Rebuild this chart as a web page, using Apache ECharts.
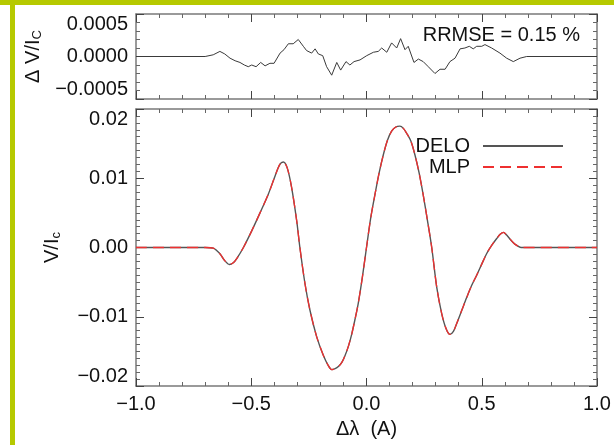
<!DOCTYPE html>
<html>
<head>
<meta charset="utf-8">
<script src="https://cdn.jsdelivr.net/npm/echarts@6/dist/echarts.min.js"></script>
<style>
  html, body { margin: 0; padding: 0; background: #fff; }
  #chart { width: 614px; height: 445px; }
</style>
</head>
<body>
<div id="chart"></div>
<script>
// residual panel (DELO - MLP)
const resX = [-1.0, -0.70, -0.665, -0.636, -0.615, -0.592, -0.570, -0.549, -0.530, -0.513, -0.498, -0.479,
  -0.459, -0.440, -0.419, -0.401, -0.375, -0.358, -0.339, -0.318, -0.296, -0.274, -0.260, -0.238, -0.223,
  -0.209, -0.190, -0.173, -0.151, -0.129, -0.112, -0.089, -0.072, -0.054, -0.028, 0.001, 0.030, 0.051,
  0.066, 0.088, 0.109, 0.131, 0.148, 0.167, 0.181, 0.206, 0.225, 0.246, 0.268, 0.297, 0.319, 0.341, 0.362,
  0.384, 0.406, 0.427, 0.446, 0.463, 0.478, 0.500, 0.514, 0.543, 0.579, 0.608, 0.637, 0.666, 0.695, 1.0];
const resY = [0, 0, 0.00002, 0.00006, 0.00003, -0.00002, -0.00005, -0.00007, -0.0001, -0.00012, -0.0001, -0.00012,
  -0.00007, -0.00011, -0.00008, -0.00008, 0.00004, 0.00008, 0.00015, 0.00015, 0.0002, 0.00012, 0.00007, 0.00004, 0.00009,
  0.00003, 0.00001, -0.00012, -0.00022, -0.00007, -0.00016, -0.00006, -0.0001, -0.00006, -0.00004, 0.00001, 0.00005, 0.00006,
  0.0001, 0.00005, 0.00016, 0.0001, 0.00021, 0.00008, 0.00012, -0.00007, -0.00003, -0.00006, -0.00012, -0.0002, -0.00015, -0.00015, -0.00006,
  -0.00002, 0.00009, 0.0001, 0.00012, 0.00009, 0.00012, 0.00012, 0.00014, 0.0001, 0.00004, -0.00002, -0.00006, -0.00002, 0, 0];

// Stokes V profiles
const waveX = [-1.0, -0.70, -0.665, -0.636, -0.615, -0.595, -0.578, -0.563, -0.534, -0.498, -0.462, -0.426,
  -0.397, -0.376, -0.361, -0.344, -0.325, -0.303, -0.289, -0.267, -0.245, -0.216, -0.187, -0.165, -0.151,
  -0.136, -0.122, -0.107, -0.093, -0.078, -0.064, -0.050, -0.036, -0.018, 0.000, 0.018, 0.037, 0.055, 0.073,
  0.091, 0.109, 0.127, 0.145, 0.160, 0.174, 0.192, 0.210, 0.228, 0.246, 0.264, 0.283, 0.305, 0.326, 0.345,
  0.362, 0.377, 0.391, 0.413, 0.435, 0.456, 0.478, 0.500, 0.521, 0.543, 0.565, 0.580, 0.594, 0.608, 0.623,
  0.637, 0.652, 0.670, 1.0];
const deloV = [0, 0, -0.0001, -0.0009, -0.0019, -0.00245, -0.0022, -0.0016, 0.0000, 0.0024, 0.0050, 0.0077,
  0.0103, 0.0120, 0.01235, 0.0115, 0.0087, 0.0039, 0.0000, -0.0052, -0.0091, -0.0129, -0.0156, -0.0171, -0.01763,
  -0.0175, -0.0172, -0.0166, -0.0156, -0.0142, -0.0125, -0.0104, -0.0081, -0.0043, 0.0000, 0.0042, 0.0077, 0.0108, 0.0134,
  0.0155, 0.0168, 0.0174, 0.01752, 0.0172, 0.0165, 0.0154, 0.0134, 0.0108, 0.0076, 0.0040, 0.0000, -0.0058, -0.0095, -0.0117,
  -0.01255, -0.0121, -0.0110, -0.0091, -0.0072, -0.0055, -0.0040, -0.0024, -0.0009, 0.0003, 0.0013, 0.0019, 0.00218, 0.0018, 0.0012,
  0.0007, 0.0003, 0.0000, 0];
const mlpV = [0, 0, -0.0001, -0.0009, -0.0019, -0.00245, -0.0022, -0.0016, 0.0000, 0.0024, 0.0050, 0.0077,
  0.0103, 0.0120, 0.01235, 0.0115, 0.0087, 0.0039, 0.0000, -0.0052, -0.0091, -0.0129, -0.0156, -0.0171, -0.01763,
  -0.0175, -0.0172, -0.0166, -0.0156, -0.0142, -0.0125, -0.0104, -0.0081, -0.0043, 0.0000, 0.0042, 0.0077, 0.0108, 0.0134,
  0.0155, 0.0168, 0.0174, 0.01752, 0.0172, 0.0165, 0.0154, 0.0134, 0.0108, 0.0076, 0.0040, 0.0000, -0.0058, -0.0095, -0.0117,
  -0.01255, -0.0121, -0.0110, -0.0091, -0.0072, -0.0055, -0.0040, -0.0024, -0.0009, 0.0003, 0.0013, 0.0019, 0.00218, 0.0018, 0.0012,
  0.0007, 0.0003, 0.0000, 0];

const FONT = '"Liberation Sans", Arial, sans-serif';
const boxColor = '#7a7a7a';

function fmt(v, d) {
  if (Math.abs(v) < 1e-12) v = 0;
  return v.toFixed(d).replace('-', '\u2212');
}

function boxAxis(grid, pos, extra) {
  return Object.assign({
    type: 'value',
    gridIndex: grid,
    position: pos,
    axisLine: { show: true, onZero: false, lineStyle: { color: boxColor, width: 1.5 } },
    axisTick: { show: true, inside: true, length: 8, lineStyle: { color: '#444', width: 1 } },
    minorTick: { show: true, length: 4, lineStyle: { color: '#666', width: 1 } },
    splitLine: { show: false },
    minorSplitLine: { show: false },
    axisLabel: { show: false }
  }, extra);
}

const xCommon = { min: -1, max: 1, interval: 0.5 };
const labelStyle = { color: '#111', fontSize: 20, fontFamily: FONT, margin: 8 };

const chart = echarts.init(document.getElementById('chart'), null, { renderer: 'canvas' });

chart.setOption({
  backgroundColor: '#fff',
  animation: false,
  textStyle: { fontFamily: FONT },
  title: {
    text: 'RRMSE = 0.15 %',
    right: 29,
    top: 20,
    textStyle: { fontSize: 20, fontWeight: 'normal', color: '#111', fontFamily: FONT }
  },
  legend: {
    data: ['DELO', 'MLP'],
    orient: 'vertical',
    align: 'right',
    right: 45,
    top: 131,
    itemWidth: 80,
    itemHeight: 10,
    itemGap: 1,
    itemStyle: { opacity: 0, borderWidth: 0 },
    textStyle: { fontSize: 20, color: '#111', fontFamily: FONT, padding: [0, 8, 0, 0] }
  },
  graphic: [
    { type: 'rect', shape: { x: 0, y: 0, width: 614, height: 5 }, style: { fill: '#b6c900' }, silent: true },
    { type: 'rect', shape: { x: 10, y: 0, width: 5, height: 445 }, style: { fill: '#b6c900' }, silent: true }
  ],
  grid: [
    { left: 136, right: 17, top: 14, height: 85, outerBoundsMode: 'none' },
    { left: 136, right: 17, top: 109, height: 277, outerBoundsMode: 'none' }
  ],
  xAxis: [
    boxAxis(0, 'bottom', Object.assign({ minorTick: { show: true, splitNumber: 5, length: 4, lineStyle: { color: '#666' } } }, xCommon)),
    boxAxis(0, 'top', Object.assign({ minorTick: { show: true, splitNumber: 5, length: 4, lineStyle: { color: '#666' } } }, xCommon)),
    boxAxis(1, 'bottom', Object.assign({
      minorTick: { show: true, splitNumber: 5, length: 4, lineStyle: { color: '#666' } },
      axisLabel: Object.assign({ show: true, formatter: v => fmt(v, 1) }, labelStyle),
      name: 'Δλ  (A)',
      nameLocation: 'middle',
      nameGap: 33,
      nameTextStyle: { fontSize: 20, color: '#111', fontFamily: FONT }
    }, xCommon)),
    boxAxis(1, 'top', Object.assign({ minorTick: { show: true, splitNumber: 5, length: 4, lineStyle: { color: '#666' } } }, xCommon))
  ],
  yAxis: [
    boxAxis(0, 'left', {
      min: -0.0005, max: 0.0005, interval: 0.0005,
      minorTick: { show: true, splitNumber: 5, length: 4, lineStyle: { color: '#666' } },
      axisLabel: Object.assign({
        show: true, formatter: v => fmt(v, 4),
        verticalAlignMinLabel: 'bottom', verticalAlignMaxLabel: 'top'
      }, labelStyle),
      name: 'Δ V/I{sub|C}',
      nameLocation: 'middle',
      nameRotate: 90,
      nameGap: 89,
      nameTextStyle: {
        fontSize: 20, color: '#111', fontFamily: FONT,
        rich: { sub: { fontSize: 13, color: '#111', fontFamily: FONT, verticalAlign: 'bottom', padding: [8, 0, 0, 0] } }
      }
    }),
    boxAxis(0, 'right', {
      min: -0.0005, max: 0.0005, interval: 0.0005,
      minorTick: { show: true, splitNumber: 5, length: 4, lineStyle: { color: '#666' } }
    }),
    boxAxis(1, 'left', {
      min: -0.02, max: 0.02, interval: 0.01,
      minorTick: { show: true, splitNumber: 10, length: 4, lineStyle: { color: '#666' } },
      axisLabel: Object.assign({
        show: true, formatter: v => fmt(v, 2),
        verticalAlignMinLabel: 'bottom', verticalAlignMaxLabel: 'top'
      }, labelStyle),
      name: 'V/I{sub|c}',
      nameLocation: 'middle',
      nameRotate: 90,
      nameGap: 73,
      nameTextStyle: {
        fontSize: 20, color: '#111', fontFamily: FONT,
        rich: { sub: { fontSize: 13, color: '#111', fontFamily: FONT, verticalAlign: 'bottom', padding: [8, 0, 0, 0] } }
      }
    }),
    boxAxis(1, 'right', {
      min: -0.02, max: 0.02, interval: 0.01,
      minorTick: { show: true, splitNumber: 10, length: 4, lineStyle: { color: '#666' } }
    })
  ],
  series: [
    {
      name: 'residual',
      type: 'line',
      xAxisIndex: 0,
      yAxisIndex: 0,
      symbol: 'none',
      data: resX.map((x, i) => [x, resY[i]]),
      lineStyle: { color: '#3a3a3a', width: 1 }
    },
    {
      name: 'DELO',
      type: 'line',
      xAxisIndex: 2,
      yAxisIndex: 2,
      symbol: 'none',
      smooth: 0.3,
      data: waveX.map((x, i) => [x, deloV[i]]),
      lineStyle: { color: '#555', width: 1.4 },
      itemStyle: { color: '#555' }
    },
    {
      name: 'MLP',
      type: 'line',
      xAxisIndex: 2,
      yAxisIndex: 2,
      symbol: 'none',
      smooth: 0.3,
      data: waveX.map((x, i) => [x, mlpV[i]]),
      lineStyle: { color: '#ee3030', width: 1.3, type: [11, 6] },
      itemStyle: { color: '#ee3030' }
    }
  ]
});
</script>
</body>
</html>
